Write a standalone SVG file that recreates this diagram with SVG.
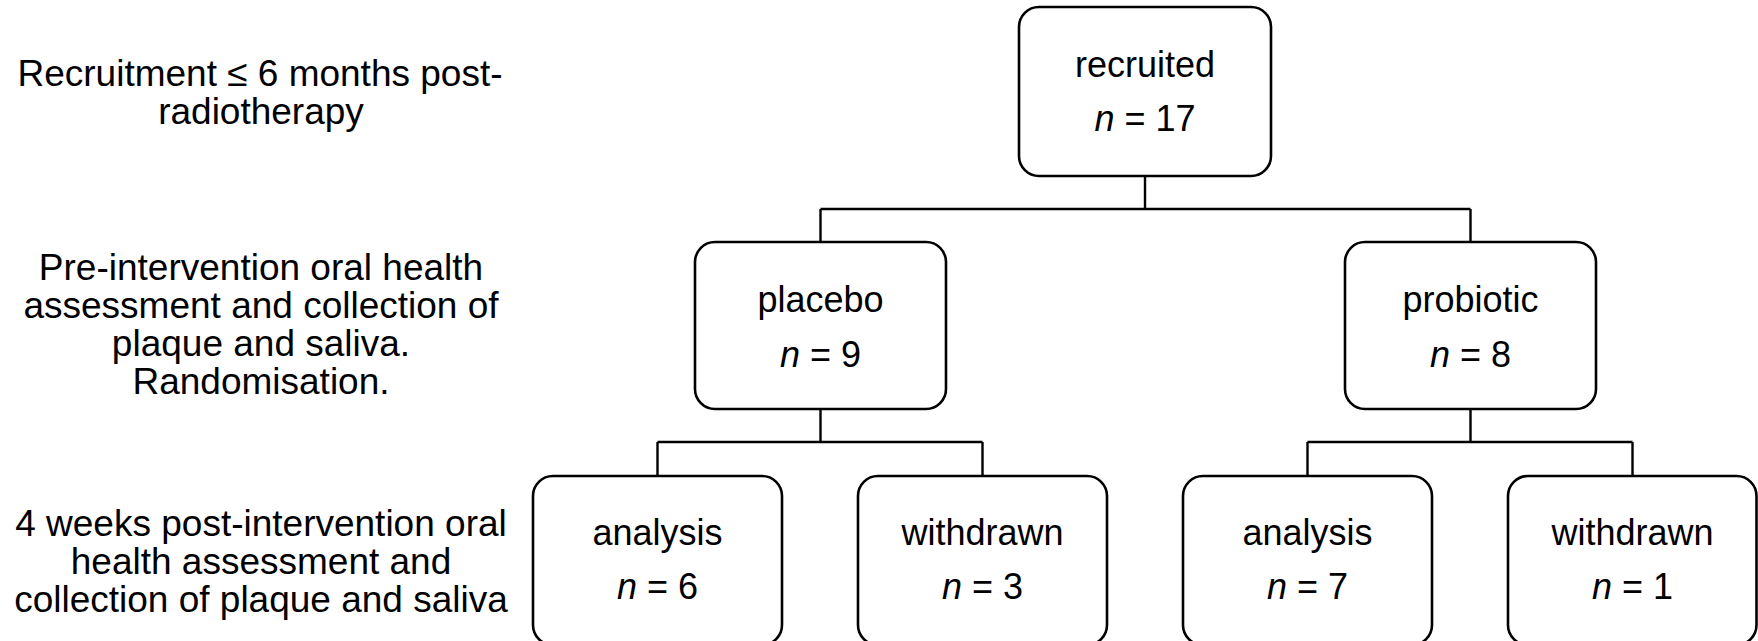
<svg xmlns="http://www.w3.org/2000/svg" width="1758" height="641" viewBox="0 0 1758 641">
<style>
.box{fill:#fff;stroke:#000;stroke-width:2.6}
.conn{fill:none;stroke:#000;stroke-width:2.4}
.t{font-family:"Liberation Sans",Arial,sans-serif;font-size:36px;fill:#000;text-anchor:middle}
.side{font-family:"Liberation Sans",Arial,sans-serif;font-size:37px;fill:#000;text-anchor:middle}
.i{font-style:italic}
</style>
<rect width="1758" height="641" fill="#fff"/>
<g id="side-labels">
<text class="side" x="260" y="86">Recruitment ≤ 6 months post-</text>
<text class="side" x="261" y="124">radiotherapy</text>
<text class="side" x="261" y="280">Pre-intervention oral health</text>
<text class="side" x="261" y="318">assessment and collection of</text>
<text class="side" x="261" y="356">plaque and saliva.</text>
<text class="side" x="261" y="394">Randomisation.</text>
<text class="side" x="261" y="536">4 weeks post-intervention oral</text>
<text class="side" x="261" y="574">health assessment and</text>
<text class="side" x="261" y="612">collection of plaque and saliva</text>
</g>
<g id="connectors">
<path class="conn" d="M1145,176 V209 M820.5,209 H1470.5 M820.5,209 V242 M1470.5,209 V242"/>
<path class="conn" d="M820.5,409 V442 M657.5,442 H982.5 M657.5,442 V476 M982.5,442 V476"/>
<path class="conn" d="M1470.5,409 V442 M1307.5,442 H1632.5 M1307.5,442 V476 M1632.5,442 V476"/>
</g>
<g id="recruited">
<rect class="box" x="1019" y="7" width="252" height="169" rx="20"/>
<text class="t" x="1145" y="77">recruited</text>
<text class="t" x="1145" y="131"><tspan class="i">n</tspan> = 17</text>
</g>
<g id="placebo">
<rect class="box" x="695" y="242" width="251" height="167" rx="20"/>
<text class="t" x="820.5" y="312">placebo</text>
<text class="t" x="820.5" y="367"><tspan class="i">n</tspan> = 9</text>
</g>
<g id="probiotic">
<rect class="box" x="1345" y="242" width="251" height="167" rx="20"/>
<text class="t" x="1470.5" y="312">probiotic</text>
<text class="t" x="1470.5" y="367"><tspan class="i">n</tspan> = 8</text>
</g>
<g id="placebo-analysis">
<rect class="box" x="533" y="476" width="249" height="169" rx="20"/>
<text class="t" x="657.5" y="545">analysis</text>
<text class="t" x="657.5" y="599"><tspan class="i">n</tspan> = 6</text>
</g>
<g id="placebo-withdrawn">
<rect class="box" x="858" y="476" width="249" height="169" rx="20"/>
<text class="t" x="982.5" y="545">withdrawn</text>
<text class="t" x="982.5" y="599"><tspan class="i">n</tspan> = 3</text>
</g>
<g id="probiotic-analysis">
<rect class="box" x="1183" y="476" width="249" height="169" rx="20"/>
<text class="t" x="1307.5" y="545">analysis</text>
<text class="t" x="1307.5" y="599"><tspan class="i">n</tspan> = 7</text>
</g>
<g id="probiotic-withdrawn">
<rect class="box" x="1508" y="476" width="248.5" height="169" rx="20"/>
<text class="t" x="1632.5" y="545">withdrawn</text>
<text class="t" x="1632.5" y="599"><tspan class="i">n</tspan> = 1</text>
</g>
</svg>
